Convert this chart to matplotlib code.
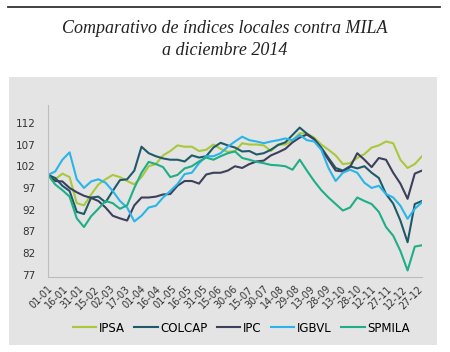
import matplotlib
matplotlib.use('Agg')
import pandas as pd
from matplotlib import pyplot as plt
from matplotlib.patches import Rectangle
from matplotlib.lines import Line2D
import matplotlib.dates as mdates

# weekly readings, 01-01-2014 .. 31-12-2014
dates = pd.date_range('2014-01-01', periods=53, freq='7D')

ipsa = [100, 99, 100.3, 99.5, 93.5, 93, 95.5, 97.8, 99, 100, 99.5, 98.6, 97.8, 99.5,
        102, 102.5, 104.5, 105.5, 106.8, 106.5, 106.5, 105.5, 105.8, 107, 106, 105.3,
        105.5, 107.3, 107, 107, 106.8, 105.5, 107, 107, 108, 109.6, 109.5, 108.6, 107,
        105.8, 104.5, 102.5, 102.7, 103.9, 104.8, 106.3, 106.8, 107.7, 107.3, 103.5,
        101.6, 102.5, 104.3]
colcap = [100, 99.3, 97.5, 96.3, 91.5, 91, 94.8, 95, 93.7, 96.3, 98.8, 99, 101, 106.5,
          105, 104.3, 103.8, 103.5, 103.5, 103.1, 104.5, 104, 104.3, 106.3, 107.4, 106.8,
          106.3, 105.4, 105.5, 104.7, 105, 105.8, 106.9, 107.5, 109.2, 110.9, 109.5,
          108.3, 106.3, 103.9, 101.6, 101, 102, 101.5, 102, 100.5, 99.3, 95.6, 93.4, 89.5,
          84.5, 93.3, 94]
ipc = [100, 98.6, 98.5, 97, 96, 95.2, 94.7, 94, 92.5, 90.6, 90, 89.5, 93, 94.8, 94.8, 95,
       95.5, 95.6, 97.5, 98.6, 98.6, 98, 100.1, 100.5, 100.5, 101, 102, 101.6, 102.5,
       103.1, 103.3, 104.5, 105.2, 106, 107.5, 108.6, 109.3, 108.2, 106, 103.5, 101,
       100.8, 101.8, 105, 103.5, 101.8, 103.9, 103.5, 100.5, 98, 94.5, 100.3, 101]
igbvl = [100, 100.8, 103.5, 105.2, 99, 97, 98.5, 99, 98.2, 96.3, 94, 92.5, 89.3, 90.6,
         92.5, 92.9, 94.8, 96.3, 97.9, 100.2, 100.5, 102.7, 104.3, 104.3, 105, 106.5,
         107.7, 108.8, 108, 107.7, 107.3, 107.7, 108, 108.4, 108, 109.2, 108, 107.7,
         105.8, 101.6, 98.6, 100.5, 101.2, 100.5, 98.2, 97, 97.5, 95.6, 94.8, 92.9, 89.9,
         92.2, 93.7]
spmila = [100, 97.8, 96.5, 95, 90, 88, 90.5, 92.2, 94, 93.5, 92.2, 93, 97, 100.5, 103,
          102.5, 101.8, 99.5, 100, 101.5, 102, 103.1, 104, 103.5, 104.3, 105, 105.4, 103.9,
          103.5, 103, 102.7, 102.3, 102.2, 102, 101.2, 103.5, 101, 98.6, 96.5, 94.8, 93.3,
          91.8, 92.5, 94.8, 94, 93.3, 91.5, 88, 86, 82.5, 78, 83.5, 83.8]

names = ['IPSA', 'COLCAP', 'IPC', 'IGBVL', 'SPMILA']
colors = ['#a9c83c', '#1e5a6a', '#3c405c', '#29b5e8', '#1fae86']
yticks = [77, 82, 87, 92, 97, 102, 107, 112]

fig = plt.figure(figsize=(4.5, 3.52), dpi=100)

# grey panel behind the chart
fig.patches.append(Rectangle((0.02, 0.02), 0.951, 0.761, transform=fig.transFigure,
                             facecolor='#e4e4e4', edgecolor='none', zorder=-1))
# rule at the top
fig.add_artist(Line2D([0.018, 0.978], [0.98, 0.98], color='#333333', lw=1.3))

fig.text(0.5, 0.918, 'Comparativo de índices locales contra MILA', ha='center', va='center',
         family='Liberation Serif', style='italic', fontsize=13, color='#222222')
fig.text(0.5, 0.856, 'a diciembre 2014', ha='center', va='center',
         family='Liberation Serif', style='italic', fontsize=13, color='#222222')

ax = fig.add_axes([0.1067, 0.2131, 0.831, 0.4886])
ax.set_facecolor('none')
for name, vals, c in zip(names, [ipsa, colcap, ipc, igbvl, spmila], colors):
    ax.plot(dates, vals, color=c, lw=1.5, label=name)

ax.set_ylim(76.5, 116.1)
ax.set_yticks(yticks)
ax.set_xlim(dates[0], dates[-1])
ticks = pd.date_range('2014-01-01', '2014-12-27', freq='15D')
ax.set_xticks(ticks)
ax.xaxis.set_major_formatter(mdates.DateFormatter('%d-%m'))
plt.setp(ax.get_xticklabels(), rotation=45, ha='right', rotation_mode='anchor')
ax.tick_params(axis='x', length=0, pad=5, labelsize=7, labelcolor='#333333')
ax.tick_params(axis='y', length=0, pad=9, labelsize=7.5, labelcolor='#333333')
for s in ['top', 'right']:
    ax.spines[s].set_visible(False)
for s in ['left', 'bottom']:
    ax.spines[s].set_color('#bdbdbd')

fig.legend(loc='center', bbox_to_anchor=(0.536, 0.068), ncol=5, frameon=False,
           fontsize=8.5, handlelength=2.0, handletextpad=0.2, columnspacing=0.8)

plt.savefig('out.png', dpi=100)
